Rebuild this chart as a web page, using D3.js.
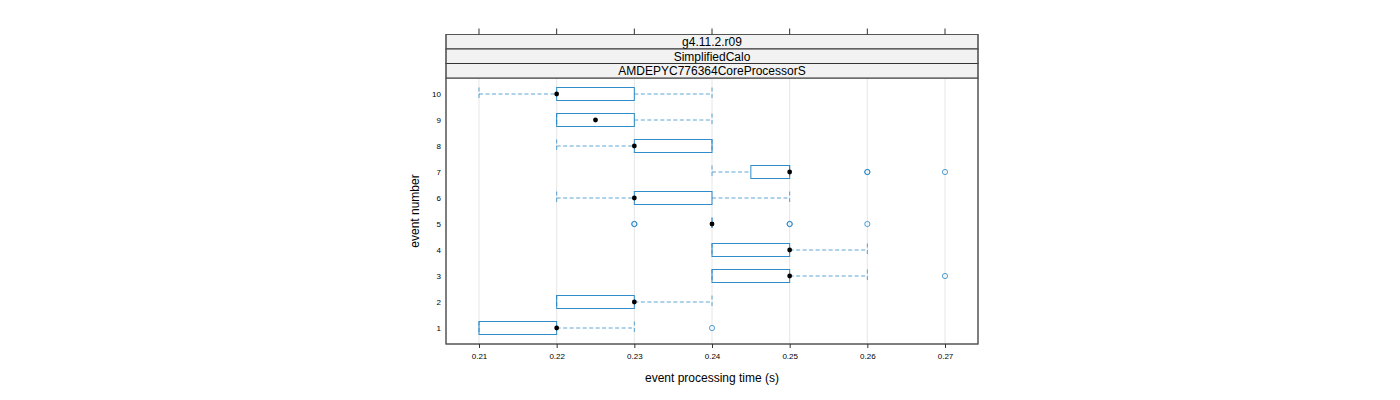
<!DOCTYPE html>
<html>
<head>
<meta charset="utf-8">
<script src="https://cdn.jsdelivr.net/npm/d3@7"></script>
<style>
body{margin:0;background:#fff;}
svg{display:block;font-family:"Liberation Sans",Arial,sans-serif;}
</style>
</head>
<body>
<svg id="chart" width="1400" height="400"></svg>
<script>
const events = [1,2,3,4,5,6,7,8,9,10];
const lowWhisker = [0.21,0.22,0.24,0.24,0.24,0.22,0.24,0.22,0.22,0.21];
const q1 = [0.21,0.22,0.24,0.24,0.24,0.23,0.245,0.23,0.22,0.22];
const median = [0.22,0.23,0.25,0.25,0.24,0.23,0.25,0.23,0.225,0.22];
const q3 = [0.22,0.23,0.25,0.25,0.24,0.24,0.25,0.24,0.23,0.23];
const highWhisker = [0.23,0.24,0.26,0.26,0.24,0.25,0.25,0.24,0.24,0.24];
const outlierEvents = [1,3,5,5,5,5,5,7,7,7];
const outlierValues = [0.24,0.27,0.23,0.23,0.25,0.25,0.26,0.26,0.26,0.27];
const xTicks = [0.21,0.22,0.23,0.24,0.25,0.26,0.27];
const stripLabels = ["g4.11.2.r09","SimplifiedCalo","AMDEPYC776364CoreProcessorS"];

const svg = d3.select("#chart");
const P = {left:446, right:978, top:78, bottom:344};
const stripH = 14.5;

const x = d3.scaleLinear().domain([0.21 - 33/7767, 0.27 + 33/7767]).range([P.left, P.right]);
const y = d3.scaleLinear().domain([1 - 16/26, 10 + 16/26]).range([P.bottom, P.top]);

const blue = "#1a80c4";
const boxH = 13;

// grid
svg.append("g").selectAll("line").data(xTicks).join("line")
  .attr("x1", d=>x(d)).attr("x2", d=>x(d))
  .attr("y1", P.top).attr("y2", P.bottom)
  .attr("stroke", "#e6e6e6").attr("stroke-width", 1);

const data = events.map((e,i)=>({e, lo:lowWhisker[i], q1:q1[i], med:median[i], q3:q3[i], hi:highWhisker[i]}));
const g = svg.append("g");

// whiskers
g.selectAll(".wl").data(data).join("line")
  .attr("x1", d=>x(d.lo)).attr("x2", d=>x(d.q1))
  .attr("y1", d=>y(d.e)).attr("y2", d=>y(d.e));
g.selectAll(".wh").data(data).join("line")
  .attr("x1", d=>x(d.q3)).attr("x2", d=>x(d.hi))
  .attr("y1", d=>y(d.e)).attr("y2", d=>y(d.e));
g.selectAll(".cl").data(data).join("line")
  .attr("x1", d=>x(d.lo)).attr("x2", d=>x(d.lo))
  .attr("y1", d=>y(d.e)-boxH/2).attr("y2", d=>y(d.e)+boxH/2);
g.selectAll(".ch").data(data).join("line")
  .attr("x1", d=>x(d.hi)).attr("x2", d=>x(d.hi))
  .attr("y1", d=>y(d.e)-boxH/2).attr("y2", d=>y(d.e)+boxH/2);
g.selectAll("line").attr("stroke", blue).attr("stroke-opacity",0.7).attr("stroke-width",1).attr("stroke-dasharray","4,2.5");

// boxes
svg.append("g").selectAll("rect").data(data).join("rect")
  .attr("x", d=>x(d.q1)).attr("width", d=>Math.max(0, x(d.q3)-x(d.q1)))
  .attr("y", d=>y(d.e)-boxH/2).attr("height", boxH)
  .attr("fill", "none").attr("stroke", blue).attr("stroke-opacity",0.9).attr("stroke-width", 1);

// outliers
const outs = outlierEvents.map((e,i)=>({e, v:outlierValues[i]}));
svg.append("g").selectAll("circle").data(outs).join("circle")
  .attr("cx", d=>x(d.v)).attr("cy", d=>y(d.e)).attr("r", 2.6)
  .attr("fill", "none").attr("stroke", blue).attr("stroke-opacity",0.75).attr("stroke-width", 1);

// medians
svg.append("g").selectAll("circle").data(data).join("circle")
  .attr("cx", d=>x(d.med)).attr("cy", d=>y(d.e)).attr("r", 2.4).attr("fill", "#000");

// panel border
svg.append("rect").attr("x", P.left).attr("y", P.top).attr("width", P.right-P.left).attr("height", P.bottom-P.top)
  .attr("fill","none").attr("stroke","#555").attr("stroke-width",1);

// strips
stripLabels.forEach((s,i)=>{
  const top = P.top - stripH*(stripLabels.length - i);
  svg.append("rect").attr("x", P.left).attr("y", top).attr("width", P.right-P.left).attr("height", stripH)
    .attr("fill","#f2f2f2").attr("stroke","#333").attr("stroke-width",1);
  svg.append("text").attr("x",(P.left+P.right)/2).attr("y", top+stripH/2+4.3)
    .attr("text-anchor","middle").attr("font-size",12).attr("fill","#000").text(s);
});
const stripTop = P.top - stripH*stripLabels.length;
svg.append("rect").attr("x", P.left).attr("y", stripTop).attr("width", P.right-P.left).attr("height", P.bottom-stripTop)
  .attr("fill","none").attr("stroke","#555").attr("stroke-width",1);

// top ticks
svg.append("g").selectAll("line").data(xTicks).join("line")
  .attr("x1", d=>x(d)).attr("x2", d=>x(d)).attr("y1", stripTop-6).attr("y2", stripTop)
  .attr("stroke","#333");

// bottom axis
const xAxis = d3.axisBottom(x).tickValues(xTicks).tickSize(4).tickPadding(5).tickFormat(d3.format(".2f"));
const xa = svg.append("g").attr("transform",`translate(0,${P.bottom})`).call(xAxis);
xa.select(".domain").remove();
xa.selectAll("line").attr("stroke","#333");
xa.selectAll("text").attr("font-size",8).attr("fill","#000").attr("font-family","Liberation Sans, Arial, sans-serif");

// left axis
const yAxis = d3.axisLeft(y).tickValues(events).tickSize(0).tickPadding(5).tickFormat(d3.format("d"));
const ya = svg.append("g").attr("transform",`translate(${P.left},0)`).call(yAxis);
ya.select(".domain").remove();
ya.selectAll("text").attr("font-size",8).attr("fill","#000").attr("font-family","Liberation Sans, Arial, sans-serif");

// axis titles
svg.append("text").attr("x",(P.left+P.right)/2).attr("y",382).attr("text-anchor","middle")
  .attr("font-size",12).attr("fill","#000").text("event processing time (s)");
svg.append("text").attr("transform",`translate(419,${(P.top+P.bottom)/2}) rotate(-90)`).attr("text-anchor","middle")
  .attr("font-size",12).attr("fill","#000").text("event number");
</script>
</body>
</html>
